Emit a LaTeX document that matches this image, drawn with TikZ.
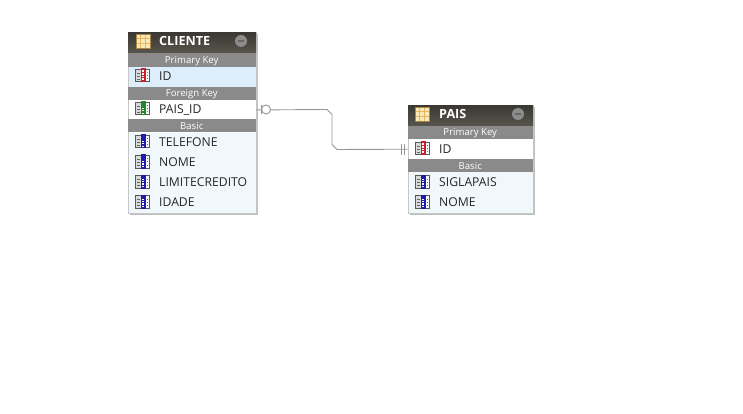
\documentclass[tikz,border=0pt]{standalone}
\usepackage{fontspec}
\setmainfont{Open Sans}
\usetikzlibrary{shadows}
\definecolor{headtop}{HTML}{3A3832}
\definecolor{headbot}{HTML}{57554D}
\definecolor{bandgray}{HTML}{8A8A8A}
\definecolor{basicrow}{HTML}{F1F8FC}
\definecolor{keyrow}{HTML}{DCEEFC}
\definecolor{linkgray}{HTML}{969696}
\definecolor{gridtan}{HTML}{F9E8B8}
\definecolor{gridline}{HTML}{E8B45C}
\definecolor{gridedge}{HTML}{A88840}
\definecolor{keyred}{HTML}{D01C24}
\definecolor{keygreen}{HTML}{1E8A2C}
\definecolor{keyblue}{HTML}{1C1CB0}
\tikzset{
  tablebox/.style={rectangle,fill=white,draw=none,inner sep=0pt,anchor=north west,
    double copy shadow={shadow xshift=1pt,shadow yshift=-1pt,fill=black!25,draw=none}},
  headbox/.style={rectangle,inner sep=0pt,anchor=north west,top color=headtop,bottom color=headbot},
  bandbox/.style={rectangle,fill=bandgray,inner sep=0pt,text=white,text height=7pt,text depth=0pt,font=\fontsize{9.6}{10}\selectfont,anchor=center},
  rowbox/.style={rectangle,inner sep=0pt,anchor=north west},
  rowtext/.style={inner sep=0pt,anchor=west,text=black!85,text height=9pt,text depth=0pt,font=\fontsize{12.2}{14}\selectfont},
  headtext/.style={inner sep=0pt,anchor=west,text=white,text height=9pt,text depth=0pt,font=\bfseries\fontsize{12.6}{14}\selectfont},
  edgeline/.style={rectangle,draw=black!22,line width=.6pt,inner sep=0pt,anchor=north west},
  link/.style={draw=linkgray,line width=.9pt},
  pics/colicon/.style n args={3}{code={
    \fill[black!65] (0,-7) rectangle (15,6.5);
    \fill[black!15] (1,-6) rectangle (5.5,5.5);
    \fill[white] (10.5,-6) rectangle (14,5.5);
    \foreach \yy in {-3,0,3} \draw[black!60,line width=.7pt] (2,\yy) -- (4.7,\yy);
    \foreach \yy in {-3,0,3} \fill[black!60] (11.5,\yy-.5) rectangle (12.7,\yy+.5);
    \fill[#1] (5.5,-7.5) rectangle (10.5,6.5);
    \fill[#2] (6.7,-3) rectangle (9.3,5.3);
    \foreach \yy in {-5.5,-2.5,0,2.5} \fill[#3] (7.4,\yy) rectangle (8.7,\yy+1.1);
  }},
  pics/gridicon/.style={code={
    \fill[gridtan] (0,-7) rectangle (14,7);
    \foreach \xx in {4.7,9.3} \draw[gridline,line width=.9pt] (\xx,-7) -- (\xx,7);
    \foreach \yy in {-2.3,2.3} \draw[gridline,line width=.9pt] (0,\yy) -- (14,\yy);
    \draw[gridedge,line width=.9pt] (0,-7) rectangle (14,7);
  }},
  pics/minusbtn/.style={code={
    \fill[black!45] (0,0) circle (6);
    \fill[black!60] (-3,-.7) rectangle (3,.7);
  }}
}
\begin{document}
\begin{tikzpicture}[x=1pt,y=-1pt]
  \useasboundingbox (0,0) rectangle (743,414);

  % CLIENTE
  \node[tablebox,minimum width=128.5pt,minimum height=180.5pt] (cliente) at (127.5,32) {};
  \node[rowbox,fill=keyrow,minimum width=128.5pt,minimum height=20pt] (clienteId) at (127.5,67) {};
  \node[rowbox,fill=white,minimum width=128.5pt,minimum height=19.5pt] (clientePais) at (127.5,100) {};
  \node[rowbox,fill=basicrow,minimum width=128.5pt,minimum height=80pt] (clienteRows) at (127.5,132.5) {};
  \node[edgeline,minimum width=128.5pt,minimum height=180.5pt] (clienteEdge) at (127.5,32) {};
  \node[headbox,minimum width=128pt,minimum height=21pt] (clienteHead) at (128,32) {};
  \pic at (136,41) {gridicon};
  \node[headtext] (clienteName) at (159,41.5) {CLIENTE};
  \pic at (241,41) {minusbtn};
  \foreach \name/\y/\h/\txt in {clientePk/53/14/Primary Key,clienteFk/87/13/Foreign Key,clienteBasic/119.5/13/Basic}
    \node[bandbox,minimum width=128.5pt,minimum height=\h pt] (\name) at (191.75,\y+\h/2) {\txt};
  \foreach \name/\y/\col/\inn/\dot/\txt in {a/76/keyred/keyred/white/ID,b/109/keygreen/white/keygreen/PAIS\_ID,c/142/keyblue/white/keyblue/TELEFONE,d/162/keyblue/white/keyblue/NOME,e/182/keyblue/white/keyblue/LIMITECREDITO,f/202/keyblue/white/keyblue/IDADE} {
    \pic at (135,\y) {colicon={\col}{\inn}{\dot}};
    \node[rowtext] (cliente\name) at (159,\y) {\txt};
  }

  % PAIS
  \node[tablebox,minimum width=125.5pt,minimum height=107.5pt] (pais) at (407.5,105) {};
  \node[rowbox,fill=white,minimum width=125.5pt,minimum height=20pt] (paisId) at (407.5,139) {};
  \node[rowbox,fill=basicrow,minimum width=125.5pt,minimum height=40.5pt] (paisRows) at (407.5,172) {};
  \node[edgeline,minimum width=125.5pt,minimum height=107.5pt] (paisEdge) at (407.5,105) {};
  \node[headbox,minimum width=125pt,minimum height=21pt] (paisHead) at (408,105) {};
  \pic at (415,114) {gridicon};
  \node[headtext] (paisName) at (439,114.5) {PAIS};
  \pic at (518,114) {minusbtn};
  \foreach \name/\y/\h/\txt in {paisPk/126/13/Primary Key,paisBasic/159/13/Basic}
    \node[bandbox,minimum width=125.5pt,minimum height=\h pt] (\name) at (470.25,\y+\h/2) {\txt};
  \foreach \name/\y/\col/\inn/\dot/\txt in {a/149/keyred/keyred/white/ID,b/182/keyblue/white/keyblue/SIGLAPAIS,c/202/keyblue/white/keyblue/NOME} {
    \pic at (415,\y) {colicon={\col}{\inn}{\dot}};
    \node[rowtext] (pais\name) at (439,\y) {\txt};
  }

  % relacao
  \coordinate (bendA) at (332,109.5);
  \coordinate (bendB) at (332,149.5);
  \draw[link] (clientePais.east) -- ([xshift=-5pt]bendA) -- ([yshift=-5pt]bendA)
    -- ([yshift=5pt]bendB) -- ([xshift=5pt]bendB) -- (paisId.west);
  \node[circle,draw=linkgray,fill=white,line width=.9pt,minimum size=9pt,inner sep=0pt] (optMark) at (266,109.5) {};
  \draw[link] (261,105) -- (261,114);
  \draw[link] (401,144) -- (401,155);
  \draw[link] (404,144) -- (404,155);
\end{tikzpicture}
\end{document}
